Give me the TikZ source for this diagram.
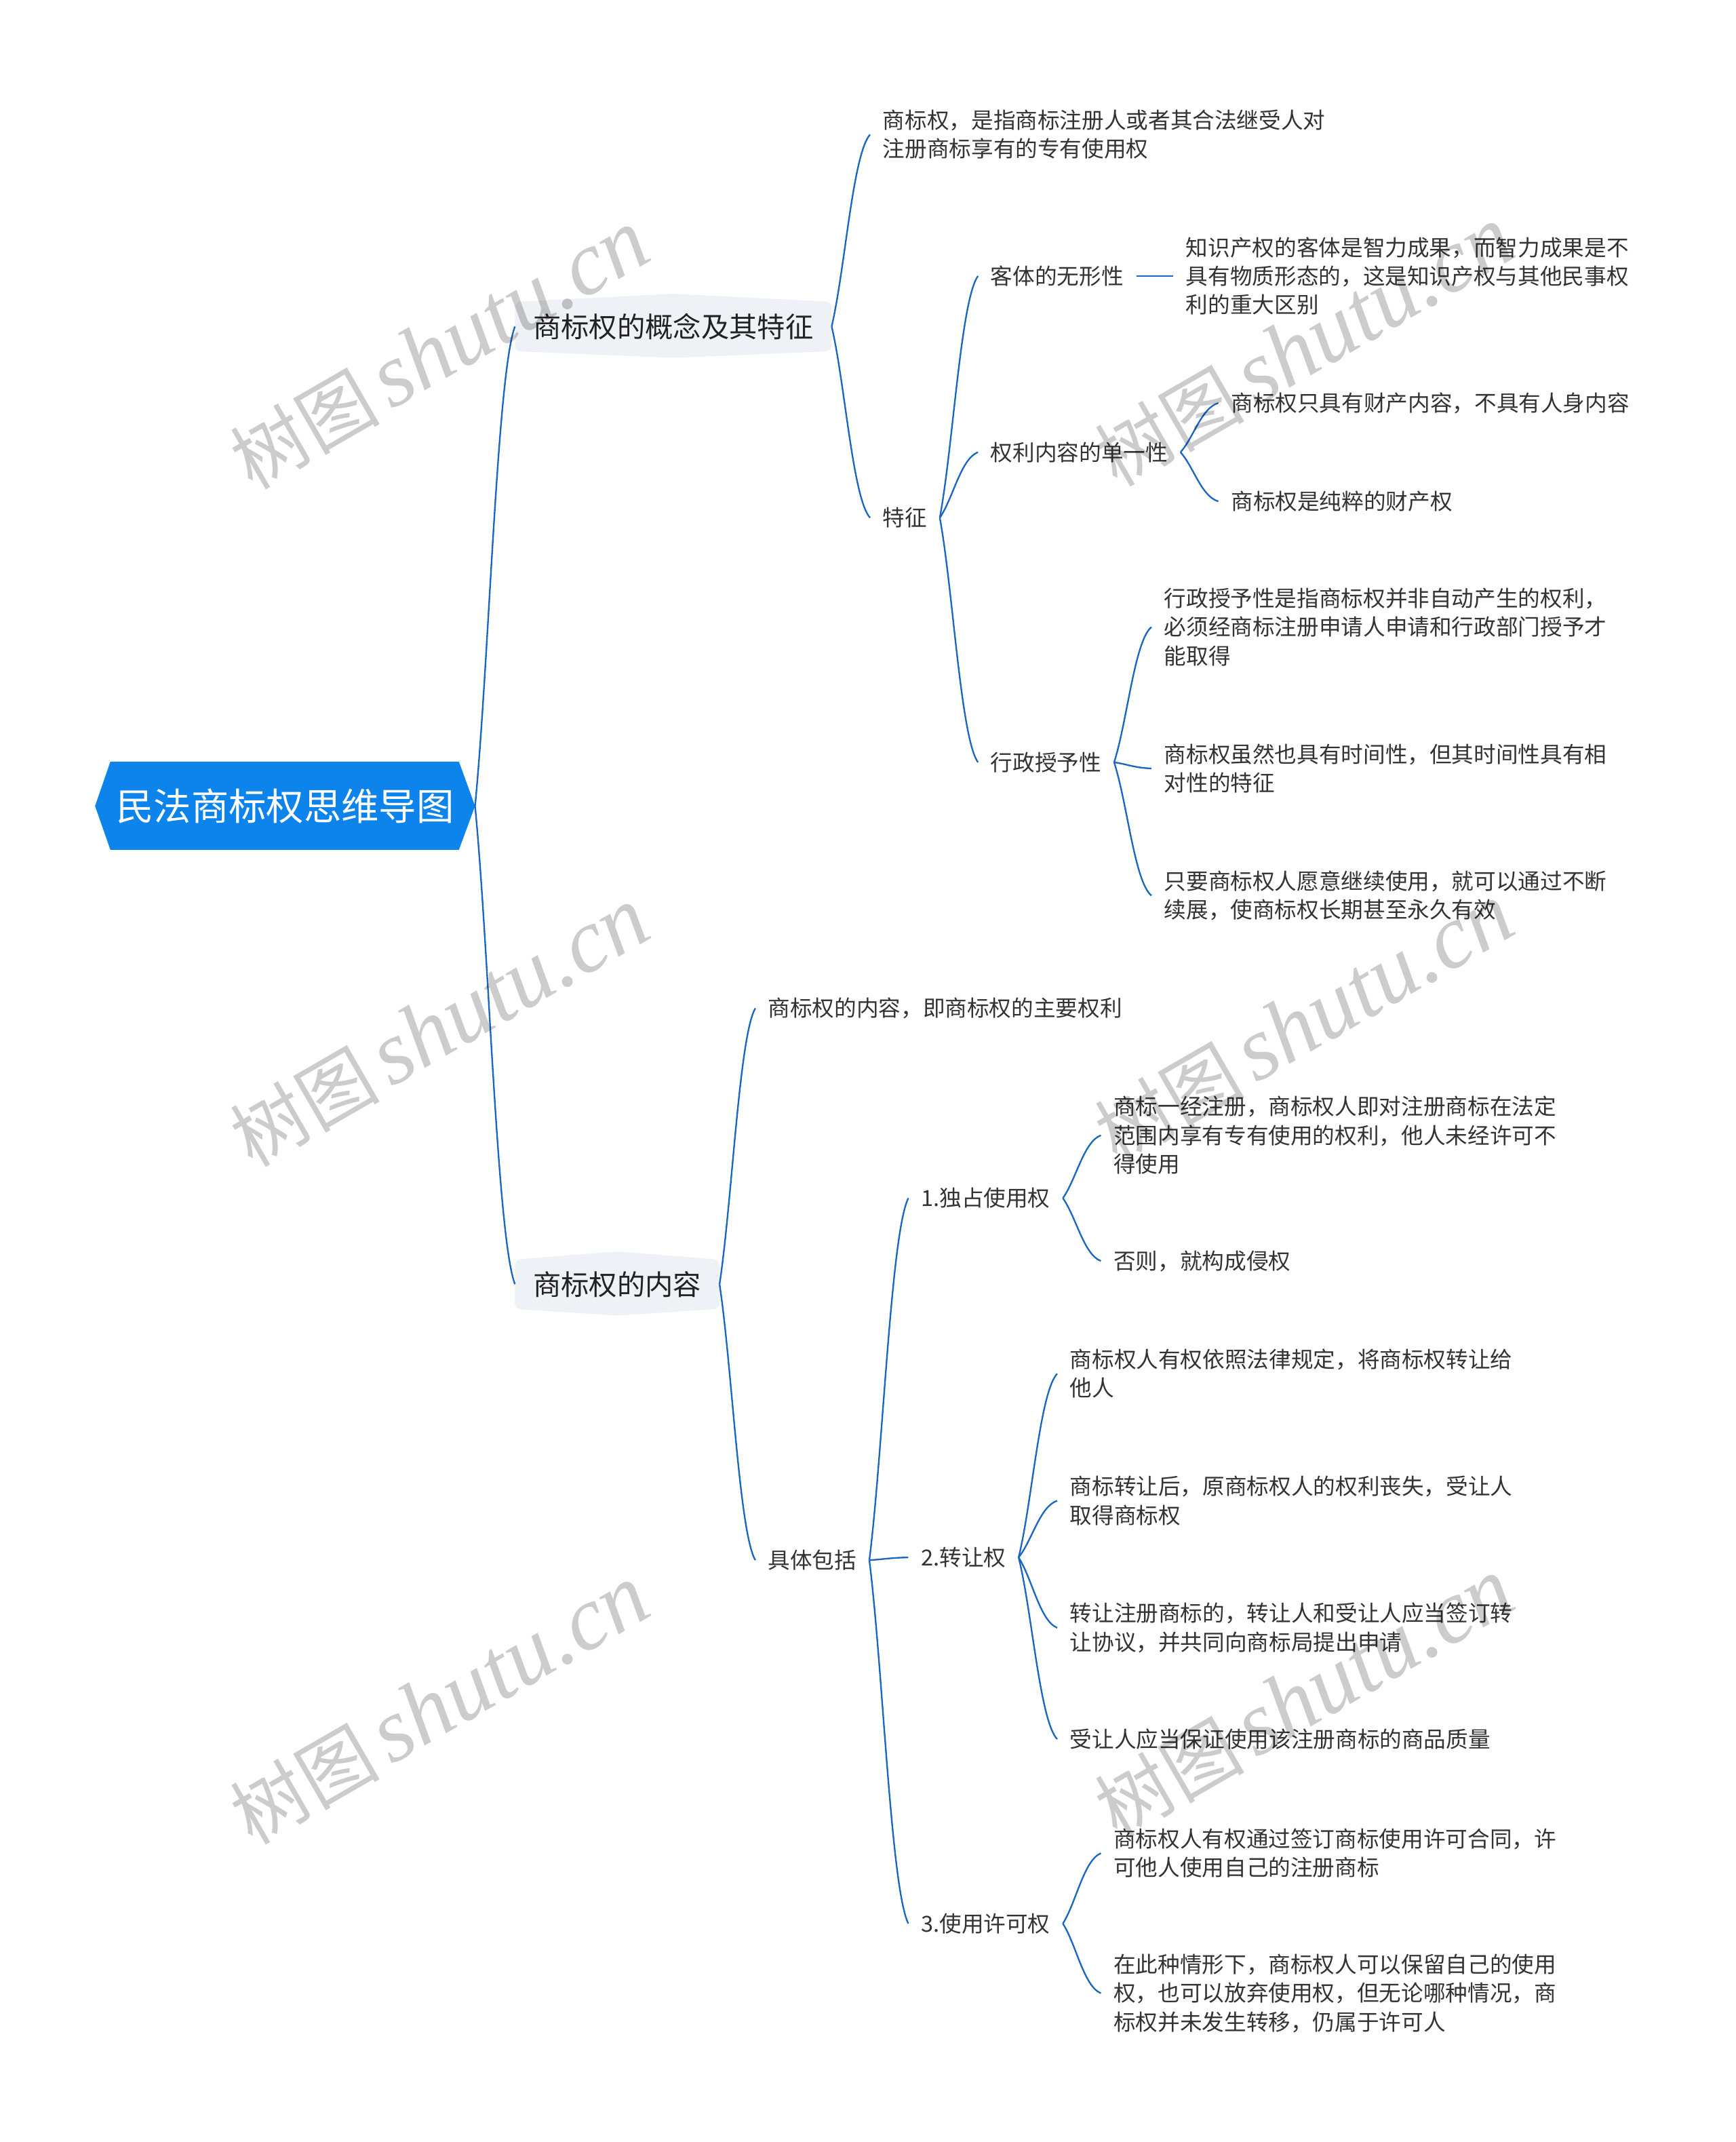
\documentclass[tikz,border=0pt]{standalone}
\usepackage{fontspec}
\newfontfamily\cjk{Noto Sans CJK SC}
\newfontfamily\wmserif{Liberation Serif}
\usetikzlibrary{calc}
\pgfdeclarelayer{paper}
\pgfdeclarelayer{bg}
\pgfdeclarelayer{fg}
\pgfsetlayers{paper,bg,main,fg}
\definecolor{rootblue}{HTML}{0C84EC}
\definecolor{lineblue}{HTML}{1A67C2}
\definecolor{lonefill}{HTML}{EEF1F5}
\definecolor{txt}{HTML}{333333}
\definecolor{txtone}{HTML}{222222}
\tikzset{
  leaf/.style={anchor=west, inner xsep=5.44pt, inner ysep=1pt, align=left, text=txt,
    font=\cjk\fontsize{9.79pt}{12.69pt}\selectfont},
  lone/.style={anchor=west, inner xsep=7.86pt, inner ysep=1pt, text=txtone,
    font=\cjk\fontsize{12.4pt}{14pt}\selectfont},
  rootn/.style={inner xsep=2.5pt, inner ysep=1pt, text=white,
    font=\cjk\fontsize{16.6pt}{18pt}\selectfont},
  conn/.style={draw=lineblue, line width=0.7pt},
  wmark/.style={rotate=30, text=black, text opacity=0.2, inner sep=0pt}
}
\newcommand\mmconn[2]{\draw[conn] let \p1=(#1), \p2=(#2) in (\p1) .. controls ({\x1+0.35*(\x2-\x1)},{\y1+0.3*(\y2-\y1)}) and ({\x2-0.45*(\x2-\x1)},{\y2-0.1*(\y2-\y1)}) .. (\p2);}
\newcommand\lonebox[1]{\path[fill=lonefill, rounded corners=2.5pt] let \p1=(#1.west), \p2=(#1.east) in (\x1,{\y1+10.9pt}) -- ({0.5*\x1+0.5*\x2},{\y1+14.5pt}) -- (\x2,{\y1+10.9pt}) -- (\x2,{\y1-10.9pt}) -- ({0.5*\x1+0.5*\x2},{\y1-13.9pt}) -- (\x1,{\y1-10.9pt}) -- cycle;}
\newcommand\wm{{\cjk\fontsize{33pt}{33pt}\selectfont 树图}\hspace{5pt}{\wmserif\itshape\fontsize{40pt}{40pt}\selectfont shutu.cn}}
\begin{document}
\begin{tikzpicture}[x=0.60425pt,y=-0.60425pt]
\useasboundingbox (0,0) rectangle (1271,1567.9);
\begin{pgfonlayer}{paper}
\fill[white] (0,0) rectangle (1271,1567.9);
\end{pgfonlayer}
% root
\node[rootn] (R) at (208.7,590) {民法商标权思维导图};
\coordinate (Rtip) at (347.8,590);
\begin{pgfonlayer}{bg}
\path[fill=rootblue] (69.6,590) -- (80.8,557.5) -- (336,557.5) -- (347.8,590) -- (336,622) -- (80.8,622) -- cycle;
\end{pgfonlayer}
% level 1
\node[lone] (A) at (377,239) {商标权的概念及其特征};
\node[lone] (B) at (377,940) {商标权的内容};
\begin{pgfonlayer}{bg}
\lonebox{A}
\lonebox{B}
\end{pgfonlayer}
% branch A
\node[leaf] (A1) at (637,98.5) {商标权，是指商标注册人或者其合法继受人对\\注册商标享有的专有使用权};
\node[leaf] (A2) at (637,379) {特征};
\node[leaf] (A21) at (716,202) {客体的无形性};
\node[leaf] (A211) at (859,202) {知识产权的客体是智力成果，而智力成果是不\\具有物质形态的，这是知识产权与其他民事权\\利的重大区别};
\node[leaf] (A22) at (716,331) {权利内容的单一性};
\node[leaf] (A221) at (892,295) {商标权只具有财产内容，不具有人身内容};
\node[leaf] (A222) at (892,367) {商标权是纯粹的财产权};
\node[leaf] (A23) at (716,558) {行政授予性};
\node[leaf] (A231) at (843,459) {行政授予性是指商标权并非自动产生的权利，\\必须经商标注册申请人申请和行政部门授予才\\能取得};
\node[leaf] (A232) at (843,562.5) {商标权虽然也具有时间性，但其时间性具有相\\对性的特征};
\node[leaf] (A233) at (843,655.5) {只要商标权人愿意继续使用，就可以通过不断\\续展，使商标权长期甚至永久有效};
% branch B
\node[leaf] (B1) at (553,738) {商标权的内容，即商标权的主要权利};
\node[leaf] (B2) at (553,1142) {具体包括};
\node[leaf] (B21) at (665,877) {1.独占使用权};
\node[leaf] (B211) at (806,831) {商标一经注册，商标权人即对注册商标在法定\\范围内享有专有使用的权利，他人未经许可不\\得使用};
\node[leaf] (B212) at (806,923) {否则，就构成侵权};
\node[leaf] (B22) at (665,1140) {2.转让权};
\node[leaf] (B221) at (774,1005.5) {商标权人有权依照法律规定，将商标权转让给\\他人};
\node[leaf] (B222) at (774,1098.5) {商标转让后，原商标权人的权利丧失，受让人\\取得商标权};
\node[leaf] (B223) at (774,1191.5) {转让注册商标的，转让人和受让人应当签订转\\让协议，并共同向商标局提出申请};
\node[leaf] (B224) at (774,1273) {受让人应当保证使用该注册商标的商品质量};
\node[leaf] (B23) at (665,1408) {3.使用许可权};
\node[leaf] (B231) at (806,1356.5) {商标权人有权通过签订商标使用许可合同，许\\可他人使用自己的注册商标};
\node[leaf] (B232) at (806,1459) {在此种情形下，商标权人可以保留自己的使用\\权，也可以放弃使用权，但无论哪种情况，商\\标权并未发生转移，仍属于许可人};
% connectors
\mmconn{Rtip}{A.west}
\mmconn{Rtip}{B.west}
\mmconn{A.east}{A1.west}
\mmconn{A.east}{A2.west}
\mmconn{A2.east}{A21.west}
\mmconn{A2.east}{A22.west}
\mmconn{A2.east}{A23.west}
\draw[conn] (A21.east) -- (A211.west);
\mmconn{A22.east}{A221.west}
\mmconn{A22.east}{A222.west}
\mmconn{A23.east}{A231.west}
\mmconn{A23.east}{A232.west}
\mmconn{A23.east}{A233.west}
\mmconn{B.east}{B1.west}
\mmconn{B.east}{B2.west}
\mmconn{B2.east}{B21.west}
\mmconn{B2.east}{B22.west}
\mmconn{B2.east}{B23.west}
\mmconn{B21.east}{B211.west}
\mmconn{B21.east}{B212.west}
\mmconn{B22.east}{B221.west}
\mmconn{B22.east}{B222.west}
\mmconn{B22.east}{B223.west}
\mmconn{B22.east}{B224.west}
\mmconn{B23.east}{B231.west}
\mmconn{B23.east}{B232.west}
% watermarks
\begin{pgfonlayer}{fg}
\node[wmark] (W1) at (322,256) {\wm};
\node[wmark] (W2) at (955,254) {\wm};
\node[wmark] (W3) at (322,752) {\wm};
\node[wmark] (W4) at (955,749) {\wm};
\node[wmark] (W5) at (322,1248) {\wm};
\node[wmark] (W6) at (955,1243) {\wm};
\end{pgfonlayer}
\end{tikzpicture}
\end{document}
